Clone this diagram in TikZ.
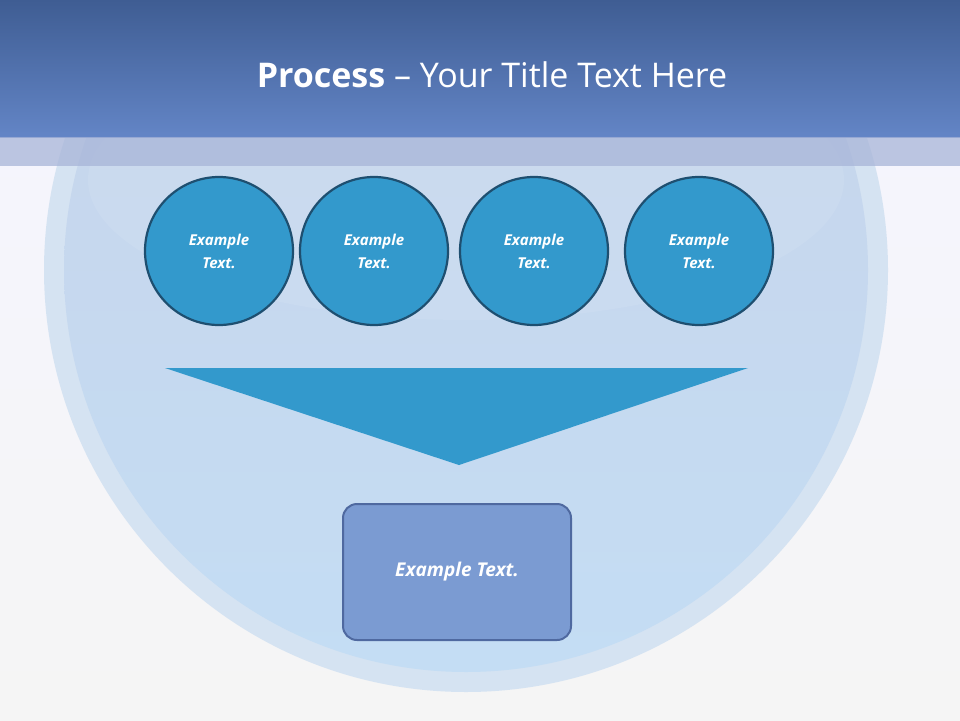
\documentclass[tikz,border=0pt]{standalone}
\usepackage{fontspec}
\setmainfont{Open Sans}
\begin{document}
\begin{tikzpicture}[x=1pt,y=-1pt,
  circ/.style={circle,minimum size=148pt,inner sep=0pt,fill=cblue,draw=cdark,line width=2.2pt,text=white,font=\bfseries\itshape\fontsize{15}{23}\selectfont,align=center},
  boxn/.style={rectangle,rounded corners=14pt,minimum width=228pt,minimum height=136pt,fill=bbox,draw=bborder,line width=2pt,text=white,font=\bfseries\itshape\fontsize{19}{22}\selectfont}]
\definecolor{cblue}{HTML}{3399CC}
\definecolor{cdark}{HTML}{1E4F70}
\definecolor{bbox}{HTML}{7B9BD2}
\definecolor{bborder}{HTML}{4F69A0}
\definecolor{htop}{HTML}{3F5D93}
\definecolor{hbot}{HTML}{6385C6}
\definecolor{ctop}{HTML}{C8D3E9}
\definecolor{cbot}{HTML}{C4DDF4}
\definecolor{ring}{HTML}{D5E3F2}
\definecolor{strip}{HTML}{A8B5D8}
\useasboundingbox (0,0) rectangle (960,720);
\shade[top color=white!96!blue, bottom color=white!92!gray] (0,0) rectangle (960,720);
\fill[ring] (466,270) circle (422);
\shade[top color=ctop, bottom color=cbot] (466,270) circle (402);
\fill[white,opacity=0.08] (466,180) ellipse (378 and 140);
\shade[top color=htop, bottom color=hbot] (0,0) rectangle (960,137);
\fill[strip, opacity=0.75] (0,137) rectangle (960,166);
\node[text=white,font=\fontsize{34}{40}\selectfont] (title) at (492,75) {\textbf{Process} – Your Title Text Here};
\node[circ] (c1) at (219,251) {Example\\Text.};
\node[circ] (c2) at (374,251) {Example\\Text.};
\node[circ] (c3) at (534,251) {Example\\Text.};
\node[circ] (c4) at (699,251) {Example\\Text.};
\fill[cblue] (165,368) -- (748,368) -- (459,465) -- cycle;
\node[boxn] (b) at (457,572) {Example Text.};
\end{tikzpicture}
\end{document}
